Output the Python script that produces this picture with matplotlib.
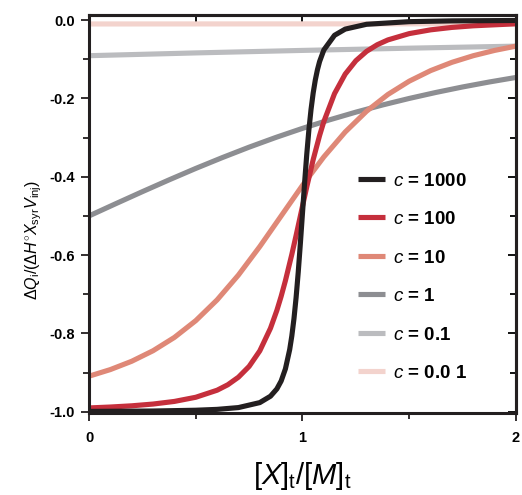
import matplotlib
matplotlib.use("Agg")
import matplotlib.pyplot as plt

plt.rcParams['font.family'] = ['Liberation Sans', 'DejaVu Sans']
plt.rcParams['mathtext.fontset'] = 'custom'
plt.rcParams['mathtext.rm'] = 'Liberation Sans'
plt.rcParams['mathtext.it'] = 'Liberation Sans:italic'

# values
x1000 = [0, 0.3, 0.5, 0.6, 0.7, 0.8, 0.85, 0.88, 0.9, 0.92, 0.94, 0.95, 0.96, 0.97, 0.98, 0.99,
         1.0, 1.01, 1.02, 1.03, 1.04, 1.05, 1.06, 1.07, 1.08, 1.1, 1.15, 1.2, 1.3, 1.5, 1.7, 2.0]
y1000 = [-0.999, -0.998, -0.996, -0.9938, -0.9892, -0.9765, -0.9602, -0.9415, -0.9214, -0.8903,
         -0.8411, -0.8063, -0.7625, -0.7084, -0.6439, -0.5704, -0.4921, -0.4143, -0.3424, -0.2799,
         -0.228, -0.1862, -0.1529, -0.1267, -0.1059, -0.0762, -0.0388, -0.023, -0.0107, -0.004,
         -0.002, -0.001]

x100 = [0, 0.1, 0.2, 0.3, 0.4, 0.5, 0.6, 0.65, 0.7, 0.75, 0.8, 0.85, 0.88, 0.9, 0.92, 0.95, 0.97,
        0.99, 1.0, 1.02, 1.05, 1.08, 1.1, 1.15, 1.2, 1.25, 1.3, 1.35, 1.4, 1.5, 1.6, 1.7, 1.8, 2.0]
y100 = [-0.9901, -0.9878, -0.9847, -0.9802, -0.9735, -0.9629, -0.9449, -0.931, -0.9116, -0.8841,
        -0.8444, -0.7867, -0.741, -0.7052, -0.6652, -0.5981, -0.5498, -0.5, -0.475, -0.4258,
        -0.3563, -0.2948, -0.259, -0.1877, -0.1379, -0.1037, -0.0798, -0.0629, -0.0506, -0.0345,
        -0.0249, -0.0187, -0.0146, -0.0095]

x10 = [0, 0.1, 0.2, 0.3, 0.4, 0.5, 0.6, 0.7, 0.8, 0.9, 1.0, 1.1, 1.2, 1.3, 1.4, 1.5, 1.6, 1.7,
       1.8, 1.9, 2.0]
y10 = [-0.9091, -0.8922, -0.871, -0.8441, -0.8101, -0.7673, -0.7143, -0.6508, -0.5781, -0.5,
       -0.4219, -0.3492, -0.2857, -0.2327, -0.1899, -0.1559, -0.129, -0.1078, -0.0909, -0.0774,
       -0.0665]

x1 = [0, 0.125, 0.25, 0.375, 0.5, 0.625, 0.75, 0.875, 1.0, 1.125, 1.25, 1.375, 1.5, 1.625,
      1.75, 1.875, 2.0]
y1 = [-0.5, -0.4688, -0.438, -0.4079, -0.3787, -0.3509, -0.3244, -0.2996, -0.2764, -0.2549,
      -0.235, -0.2167, -0.2, -0.1847, -0.1707, -0.158, -0.1464]

x01 = [0, 0.5, 1.0, 1.5, 2.0]
y01 = [-0.0909, -0.0838, -0.0774, -0.0717, -0.0665]

x001 = [0, 1.0, 2.0]
y001 = [-0.0099, -0.0097, -0.0095]

series = [
    (x1000, y1000, "#231f20", "1000"),
    (x100, y100, "#c52f3c", "100"),
    (x10, y10, "#df8877", "10"),
    (x1, y1, "#8d8e92", "1"),
    (x01, y01, "#bbbcbf", "0.1"),
    (x001, y001, "#f3d3cd", "0.0 1"),
]

fig = plt.figure(figsize=(5.22, 4.95), dpi=100)
ax = fig.add_axes([0.1705, 0.1657, 0.818, 0.804])

# draw back to front so the black curve ends on top
for xs, ys, col, lab in reversed(series):
    ax.plot(xs, ys, color=col, lw=3.7, solid_capstyle='butt',
            label=r'$c$ = ' + lab)

ax.set_xlim(0, 2)
ax.set_ylim(-1.003, 0.013)
ax.set_xticks([0, 1, 2])
ax.set_xticks([0.5, 1.5], minor=True)
ax.set_yticks([0.0, -0.2, -0.4, -0.6, -0.8, -1.0])
ax.set_yticks([-0.1, -0.3, -0.5, -0.7, -0.9], minor=True)
ax.set_yticklabels(['0.0', '-0.2', '-0.4', '-0.6', '-0.8', '-1.0'])

for s in ax.spines.values():
    s.set_linewidth(2.2)
    s.set_color('#231f20')

ax.tick_params(axis='both', which='major', length=6, width=1.3, labelsize=10.5,
               color='#231f20')
ax.tick_params(axis='both', which='minor', length=4, width=1.3, color='#231f20')
ax.tick_params(axis='x', which='both', direction='out', top=False, pad=7)
ax.tick_params(axis='y', which='both', direction='out', right=False, pad=4)
ax2 = ax.secondary_xaxis('top')
ax2.set_xticks([0, 1, 2])
ax2.set_xticks([0.5, 1.5], minor=True)
ax2.tick_params(which='both', direction='in', length=5, width=1.3, labeltop=False)
ax3 = ax.secondary_yaxis('right')
ax3.set_yticks([0.0, -0.2, -0.4, -0.6, -0.8, -1.0])
ax3.set_yticks([-0.1, -0.3, -0.5, -0.7, -0.9], minor=True)
ax3.tick_params(which='major', direction='in', length=6, width=1.3, labelright=False)
ax3.tick_params(which='minor', direction='in', length=4, width=1.3, labelright=False)
for a in (ax2, ax3):
    for s in a.spines.values():
        s.set_linewidth(2.2)

for lbl in ax.get_xticklabels() + ax.get_yticklabels():
    lbl.set_fontweight('bold')

ax.set_xlabel(r'$[X]_\mathrm{t}/[M]_\mathrm{t}$', fontsize=21, labelpad=11)
ax.set_ylabel(r'$\Delta Q_\mathrm{i}/(\Delta H^{\circ}X_\mathrm{syr}V_\mathrm{inj})$',
              fontsize=11.5)
ax.yaxis.set_label_coords(-0.105, 0.435)

handles, labels = ax.get_legend_handles_labels()
leg = ax.legend(handles[::-1], labels[::-1], loc='upper left',
                bbox_to_anchor=(0.609, 0.628), frameon=False,
                handlelength=1.4, handletextpad=0.45, labelspacing=1.14,
                borderpad=0, prop={'weight': 'bold', 'size': 13.5})

fig.savefig('out.png', dpi=100)
